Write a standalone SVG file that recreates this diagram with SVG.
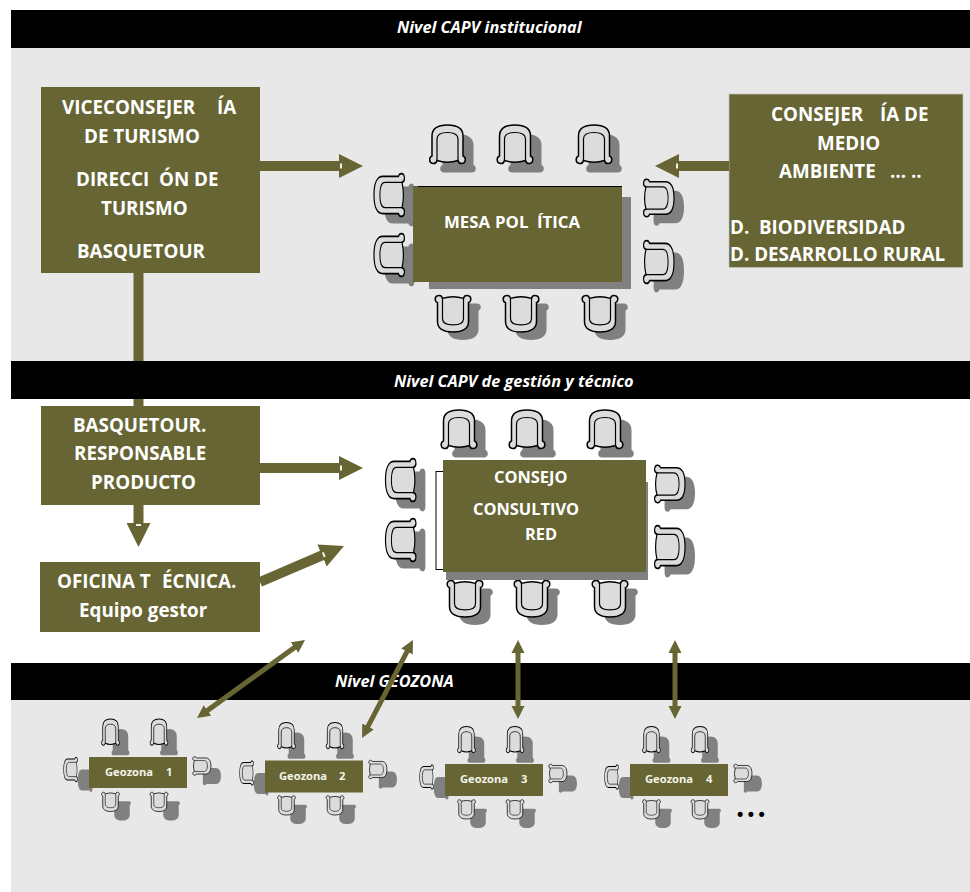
<svg xmlns="http://www.w3.org/2000/svg" width="970" height="892" viewBox="0 0 970 892">
<style>
.bar{fill:#000}.panel{fill:#e8e8e8}.box{fill:#666533}.sh{fill:#808080}
.t{font-family:"Open Sans",Lato,sans-serif;font-weight:700;fill:#fff;font-size:18.800px}
.m{font-size:16.800px}
.c{font-size:16.400px}
.h{font-family:"Open Sans",Lato,sans-serif;font-weight:700;font-style:italic;fill:#fff;font-size:16.300px}
.g{font-family:"Open Sans",Lato,sans-serif;font-weight:700;fill:#f4f4ea;font-size:11.200px}
.thick{stroke:#666533;stroke-width:10;fill:none}
.thin{stroke:#666533;stroke-width:5;fill:none}
</style>
<defs>
<marker id="big" markerUnits="userSpaceOnUse" markerWidth="24" markerHeight="24" refX="2" refY="12" orient="auto"><path d="M0,0L24,12L0,24Z" fill="#666533"/><rect x="1" y="9.500" width="2" height="5" fill="#f4f4ea"/></marker>
<marker id="small" markerUnits="userSpaceOnUse" markerWidth="13" markerHeight="14" refX="2" refY="7" orient="auto-start-reverse"><path d="M0,0.500L13,7L0,13.500Z" fill="#666533"/></marker>
<g id="seat">
<path d="M-15.500,12C-18.500,13-19,19-14.500,19.500C-12.500,19.800-11,18.500-10.500,16.500Q0,20 10.500,16.500C11,18.500 12.500,19.800 14.500,19.500C19,19 18.500,13 15.500,12L15.500,-8C15.500,-15 10,-19 0,-19C-10,-19-15.500,-15-15.500,-8Z" fill="#dcdcdc" stroke="#000" stroke-width="1.500"/>
<path d="M-10.500,16.500L-10.500,-5C-10.500,-9.500-6,-11.500 0,-11.500C6,-11.500 10.500,-9.500 10.500,-5L10.500,16.500" fill="none" stroke="#000" stroke-width="1.200"/>
</g>
<path id="seatS" d="M-15.500,12C-18.500,13-19,19-14.500,19.500L14.500,19.500C19,19 18.500,13 15.500,12L15.500,-8C15.500,-15 10,-19 0,-19C-10,-19-15.500,-15-15.500,-8Z" fill="#808080"/>
<g id="gzChairs">
<use href="#seatS" transform="translate(120.500,742) scale(.5,.68)"/><use href="#seatS" transform="translate(169,742) scale(.5,.68)"/>
<use href="#seatS" transform="translate(85,780) rotate(-90) scale(.68,.38)"/><use href="#seatS" transform="translate(212,776) rotate(90) scale(.52,.47)"/>
<use href="#seatS" transform="translate(122,811) rotate(180) scale(.5,.5)"/><use href="#seatS" transform="translate(171,811) rotate(180) scale(.5,.5)"/>
<use href="#seat" transform="translate(110.500,732) scale(.5,.68)"/><use href="#seat" transform="translate(159,732) scale(.5,.68)"/>
<use href="#seat" transform="translate(70.500,769.500) rotate(-90) scale(.68,.36)"/><use href="#seat" transform="translate(202,766) rotate(90) scale(.52,.47)"/>
<use href="#seat" transform="translate(110.500,802) rotate(180) scale(.5,.5)"/><use href="#seat" transform="translate(159,802) rotate(180) scale(.5,.5)"/>
</g>
</defs>
<g id="panels">
<rect class="panel" x="11" y="48" width="959" height="313"/>
<rect class="panel" x="11" y="700" width="959" height="192"/>
</g>
<g id="connectors-behind"><path class="thick" d="M138.500,273V406"/></g>
<g id="bars">
<rect class="bar" x="11" y="10" width="959" height="38"/>
<rect class="bar" x="11" y="361" width="959" height="38"/>
<rect class="bar" x="11" y="663" width="959" height="37"/>
</g>
<g id="level-labels">
<text class="h" x="397" y="33">Nivel CAPV institucional</text>
<text class="h" x="394" y="387">Nivel CAPV de gestión y técnico</text>
<text class="h" x="335" y="687">Nivel GEOZONA</text>
</g>
<g id="mesa-politica">
<use href="#seatS" transform="translate(458,153)"/><use href="#seatS" transform="translate(526,153)"/><use href="#seatS" transform="translate(604,153)"/>
<use href="#seatS" transform="translate(399,205) rotate(-90) scale(1.200,.79)"/><use href="#seatS" transform="translate(399,265) rotate(-90) scale(1.200,.79)"/>
<use href="#seatS" transform="translate(669,207) rotate(90) scale(1.050,.79)"/><use href="#seatS" transform="translate(669,271) rotate(90) scale(1.200,.79)"/>
<use href="#seatS" transform="translate(463,322) rotate(180) scale(1,.95)"/><use href="#seatS" transform="translate(531,322) rotate(180) scale(1,.95)"/><use href="#seatS" transform="translate(610,322) rotate(180) scale(1,.95)"/>
<use href="#seat" transform="translate(447.500,144)"/><use href="#seat" transform="translate(515,144)"/><use href="#seat" transform="translate(594,144)"/>
<use href="#seat" transform="translate(389,195) rotate(-90) scale(1.200,.79)"/><use href="#seat" transform="translate(389,255) rotate(-90) scale(1.200,.79)"/>
<use href="#seat" transform="translate(659,198) rotate(90) scale(1.050,.79)"/><use href="#seat" transform="translate(659,262) rotate(90) scale(1.200,.79)"/>
<use href="#seat" transform="translate(453,314) rotate(180) scale(1,.95)"/><use href="#seat" transform="translate(521,314) rotate(180) scale(1,.95)"/><use href="#seat" transform="translate(600,314) rotate(180) scale(1,.95)"/>
<rect class="sh" x="429" y="197" width="202" height="92"/>
<rect class="box" x="413" y="186" width="209" height="96"/>
<path d="M418,186.500H622" stroke="#000" stroke-width="1"/>
<text class="t m" x="444" y="228">MESA <tspan x="495">POL</tspan> <tspan x="537">ÍTICA</tspan></text>
</g>
<g id="consejo-consultivo">
<use href="#seatS" transform="translate(470,438)"/><use href="#seatS" transform="translate(538,438)"/><use href="#seatS" transform="translate(616,438)"/>
<use href="#seatS" transform="translate(410,490) rotate(-90) scale(1.200,.79)"/><use href="#seatS" transform="translate(410,550) rotate(-90) scale(1.200,.79)"/>
<use href="#seatS" transform="translate(680,493) rotate(90) scale(1.050,.79)"/><use href="#seatS" transform="translate(680,556) rotate(90) scale(1.200,.79)"/>
<use href="#seatS" transform="translate(475,607) rotate(180) scale(1,.95)"/><use href="#seatS" transform="translate(542,607) rotate(180) scale(1,.95)"/><use href="#seatS" transform="translate(620,607) rotate(180) scale(1,.95)"/>
<use href="#seat" transform="translate(459,429)"/><use href="#seat" transform="translate(527,429)"/><use href="#seat" transform="translate(605,429)"/>
<use href="#seat" transform="translate(400.500,480) rotate(-90) scale(1.200,.79)"/><use href="#seat" transform="translate(400.500,540) rotate(-90) scale(1.200,.79)"/>
<use href="#seat" transform="translate(670,484) rotate(90) scale(1.050,.79)"/><use href="#seat" transform="translate(670,547) rotate(90) scale(1.200,.79)"/>
<use href="#seat" transform="translate(465,599) rotate(180) scale(1,.95)"/><use href="#seat" transform="translate(532,599) rotate(180) scale(1,.95)"/><use href="#seat" transform="translate(610,599) rotate(180) scale(1,.95)"/>
<rect x="436" y="471.500" width="10" height="98" fill="#fff" stroke="#000" stroke-width="1"/>
<rect class="sh" x="446" y="482" width="202" height="98"/>
<rect class="box" x="443" y="460" width="203" height="112"/>
<text class="t c" x="494" y="483">CONSEJO</text>
<text class="t c" x="473" y="515">CONSULTIVO</text>
<text class="t c" x="525" y="540">RED</text>
</g>
<g id="viceconsejeria">
<rect class="box" x="41" y="87" width="219" height="186"/>
<text class="t" x="62" y="114">VICECONSEJER <tspan x="217">ÍA</tspan></text>
<text class="t" x="84" y="143">DE TURISMO</text>
<text class="t" x="76" y="186">DIRECCI <tspan x="159">ÓN DE</tspan></text>
<text class="t" x="101" y="215">TURISMO</text>
<text class="t" x="77" y="258">BASQUETOUR</text>
</g>
<g id="consejeria-medio-ambiente">
<rect class="box" x="729" y="94" width="234" height="173.500" stroke="#c8c8b8" stroke-width=".7"/>
<text class="t" x="771" y="121">CONSEJER <tspan x="880">ÍA DE</tspan></text>
<text class="t" x="817" y="150">MEDIO</text>
<text class="t" x="779" y="178">AMBIENTE <tspan x="890">… ..</tspan></text>
<text class="t" x="730" y="234">D.  <tspan x="759">BIODIVERSIDAD</tspan></text>
<text class="t" x="730" y="261">D. DESARROLLO RURAL</text>
</g>
<g id="basquetour-responsable">
<rect class="box" x="41" y="406" width="219" height="99"/>
<text class="t" x="73" y="432">BASQUETOUR.</text>
<text class="t" x="74" y="460">RESPONSABLE</text>
<text class="t" x="91" y="489">PRODUCTO</text>
</g>
<g id="oficina-tecnica">
<rect class="box" x="40" y="562" width="220" height="70"/>
<text class="t" x="57" y="588">OFICINA T <tspan x="162">ÉCNICA.</tspan></text>
<text class="t" x="79" y="617">Equipo gestor</text>
</g>
<g id="geozona-1">
<use href="#gzChairs"/>
<rect class="box" x="89" y="757" width="98" height="31"/>
<text class="g" x="105" y="776">Geozona</text><text class="g" x="166" y="776">1</text>
</g>
<g id="geozona-2" transform="translate(176,3.500)">
<use href="#gzChairs"/>
<rect class="box" x="89" y="757" width="98" height="32"/>
<text class="g" x="103" y="776">Geozona</text><text class="g" x="163" y="776">2</text>
</g>
<g id="geozona-3" transform="translate(356,7.500)">
<use href="#gzChairs"/>
<rect class="box" x="89" y="756.500" width="98" height="32"/>
<text class="g" x="104" y="775">Geozona</text><text class="g" x="165" y="775">3</text>
</g>
<g id="geozona-4" transform="translate(541,7.500)">
<use href="#gzChairs"/>
<rect class="box" x="89" y="756.500" width="98" height="32"/>
<text class="g" x="104" y="775">Geozona</text><text class="g" x="165" y="775">4</text>
</g>
<text x="737" y="820" font-family="'Liberation Sans',sans-serif" font-weight="700" font-size="18" letter-spacing="4.500" fill="#000">•••</text>
<g id="connectors">
<path class="thick" marker-end="url(#big)" d="M260,166H341"/>
<path class="thick" marker-end="url(#big)" d="M729,166H677"/>
<path class="thick" marker-end="url(#big)" d="M260,468H341"/>
<path class="thick" marker-end="url(#big)" d="M138.500,505V525"/>
<path class="thick" marker-end="url(#big)" d="M260,582L323.800,554.700"/>
<path class="thin" marker-start="url(#small)" marker-end="url(#small)" d="M205.900,711.600L296.100,646.400"/>
<path class="thin" marker-start="url(#small)" marker-end="url(#small)" d="M367.100,728.200L407.900,649.800"/>
<path class="thin" marker-start="url(#small)" marker-end="url(#small)" d="M518,708V651"/>
<path class="thin" marker-start="url(#small)" marker-end="url(#small)" d="M675,708V651"/>
</g>
</svg>
